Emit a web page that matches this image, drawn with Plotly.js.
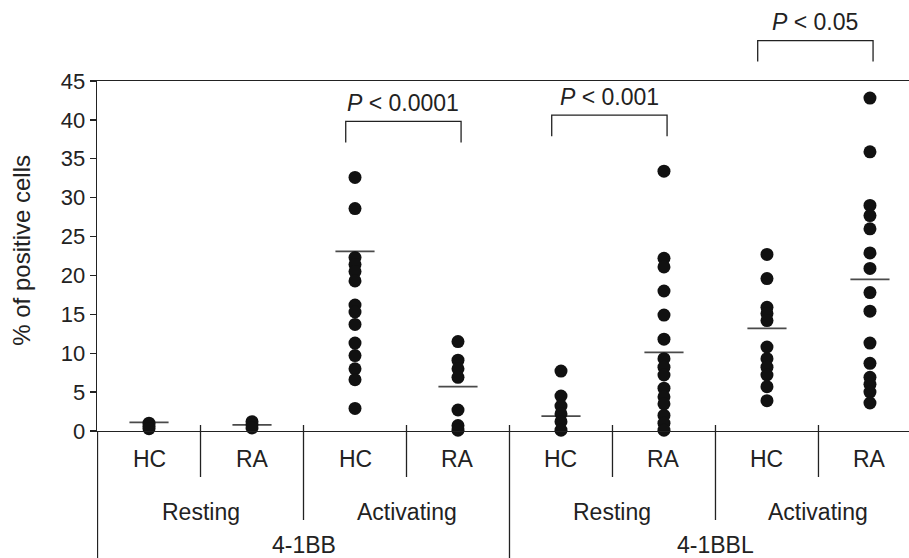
<!DOCTYPE html>
<html>
<head>
<meta charset="utf-8">
<script src="https://cdn.plot.ly/plotly-3.0.1.min.js"></script>
<style>html,body{margin:0;padding:0;background:#fff;}#chart{width:909px;height:558px;}</style>
</head>
<body>
<div id="chart"></div>
<script>
// ---- data ----
var groupLabels = ['HC', 'RA', 'HC', 'RA', 'HC', 'RA', 'HC', 'RA'];
var stateLabels = ['Resting', 'Activating', 'Resting', 'Activating'];
var markerLabels = ['4-1BB', '4-1BBL'];

var bbRestHC = [1.0, 0.6, 0.3];
var bbRestRA = [1.2, 0.8, 0.4];
var bbActHC = [32.6, 28.6, 22.3, 21.4, 20.5, 19.3, 16.2, 15.3, 13.7, 11.3, 9.7, 8.0, 6.6, 2.9];
var bbActRA = [11.5, 9.1, 8.0, 6.9, 2.7, 0.7, 0.1];
var bblRestHC = [7.7, 4.5, 3.2, 2.2, 1.2, 0.1];
var bblRestRA = [33.4, 22.2, 21.1, 18.0, 14.9, 11.8, 9.3, 8.2, 7.2, 5.5, 4.4, 3.5, 2.0, 1.0, 0.1];
var bblActHC = [22.7, 19.6, 15.9, 15.1, 14.2, 10.8, 9.3, 8.2, 7.2, 5.7, 3.9];
var bblActRA = [42.8, 35.9, 29.0, 27.7, 26.0, 22.9, 20.9, 17.8, 15.4, 11.3, 8.7, 6.9, 6.0, 5.0, 3.6];

var means = [1.1, 0.8, 23.1, 5.7, 1.9, 10.1, 13.2, 19.5];

var pLabels = ['<i>P</i> &lt; 0.0001', '<i>P</i> &lt; 0.001', '<i>P</i> &lt; 0.05'];
var pFrom = [2, 4, 6];
var pTo = [3, 5, 7];
var pLevel = [39.8, 40.6, 50.2];

// ---- build ----
(function () {
  var series = [bbRestHC, bbRestRA, bbActHC, bbActRA, bblRestHC, bblRestRA, bblActHC, bblActRA];
  var YMAX = 45;
  var dx = [], dy = [];
  series.forEach(function (s, i) {
    s.forEach(function (v) { dx.push(i); dy.push(v); });
  });
  var mx = [], my = [];
  means.forEach(function (m, i) {
    mx.push(i - 0.19, i + 0.19, null);
    my.push(m, m, null);
  });

  var traces = [
    {
      type: 'scatter', mode: 'lines', x: mx, y: my,
      line: {color: '#4a4a4a', width: 1.7}, hoverinfo: 'skip'
    },
    {
      type: 'scatter', mode: 'markers', x: dx, y: dy, cliponaxis: false,
      marker: {color: '#111111', size: 13}, hoverinfo: 'skip'
    }
  ];

  var ink = '#222222';
  var family = 'Liberation Sans, Arial, sans-serif';
  var font = {family: family, size: 23, color: ink};
  var tickFont = {family: family, size: 22, color: ink};
  var titleFont = {family: family, size: 24, color: ink};
  var shapes = [], annotations = [];
  var px = 1 / 350; // paper units per pixel (plot height 350px)

  var divTop = 6 * px;
  var divBottom = -127 * px;
  shapes.push({type: 'line', xref: 'x', yref: 'paper', x0: -0.5, x1: -0.5, y0: 0, y1: divBottom, line: {color: ink, width: 1.3}});
  for (var k = 0; k < 7; k++) {
    var bx = k + 0.5;
    var yEnd = (k === 3) ? divBottom : ((k === 1 || k === 5) ? -89 * px : -46 * px);
    shapes.push({type: 'line', xref: 'x', yref: 'paper', x0: bx, x1: bx, y0: divTop, y1: yEnd, line: {color: ink, width: 1.3}});
  }

  groupLabels.forEach(function (t, i) {
    annotations.push({text: t, xref: 'x', yref: 'paper', x: i, y: -28 * px, xanchor: 'center', yanchor: 'middle', showarrow: false, font: font});
  });
  stateLabels.forEach(function (t, i) {
    annotations.push({text: t, xref: 'x', yref: 'paper', x: 2 * i + 0.5, y: -81 * px, xanchor: 'center', yanchor: 'middle', showarrow: false, font: font});
  });
  markerLabels.forEach(function (t, i) {
    annotations.push({text: t, xref: 'x', yref: 'paper', x: 4 * i + 1.5, y: -114 * px, xanchor: 'center', yanchor: 'middle', showarrow: false, font: font});
  });

  pLabels.forEach(function (t, i) {
    var yt = pLevel[i] / YMAX;
    var yb = yt - 21 * px;
    var x0 = pFrom[i] - 0.09, x1 = pTo[i] + 0.03;
    shapes.push({type: 'path', xref: 'x', yref: 'paper',
      path: 'M' + x0 + ',' + yb + ' L' + x0 + ',' + yt + ' L' + x1 + ',' + yt + ' L' + x1 + ',' + yb,
      line: {color: ink, width: 1.3}});
    annotations.push({text: t, xref: 'x', yref: 'paper', x: (x0 + x1) / 2, y: yt + 18.5 * px,
      xanchor: 'center', yanchor: 'middle', showarrow: false, font: font});
  });

  annotations.push({text: '% of positive cells', xref: 'paper', yref: 'paper', x: -75 / 812, y: 0.515,
    xanchor: 'center', yanchor: 'middle', textangle: -90, showarrow: false, font: titleFont});

  var layout = {
    width: 909, height: 558,
    margin: {l: 97, r: 0, t: 81, b: 127, pad: 0},
    paper_bgcolor: '#ffffff', plot_bgcolor: '#ffffff',
    showlegend: false,
    font: font,
    xaxis: {
      range: [-0.505, 7.379], showgrid: false, zeroline: false,
      showline: true, linecolor: ink, linewidth: 1.3, mirror: true,
      ticks: '', showticklabels: false, fixedrange: true
    },
    yaxis: {
      range: [0, YMAX], dtick: 5, tick0: 0, showgrid: false, zeroline: false,
      showline: true, linecolor: ink, linewidth: 1.3,
      ticks: 'outside', ticklen: 6, tickwidth: 1.3, tickcolor: ink,
      tickfont: tickFont, fixedrange: true
    },
    shapes: shapes,
    annotations: annotations
  };

  Plotly.newPlot('chart', traces, layout, {displayModeBar: false, staticPlot: true});
})();
</script>
</body>
</html>
